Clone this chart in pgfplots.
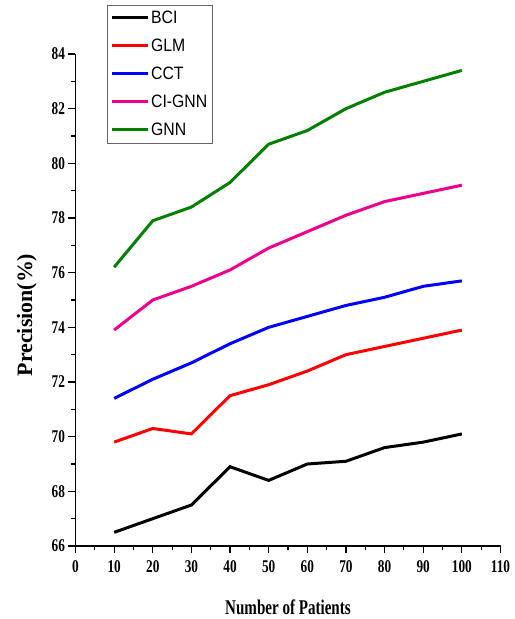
\documentclass[border=0pt]{standalone}
\usepackage{pgfplots}
\pgfplotsset{compat=1.18}
\usepackage{graphicx}
\usepackage{fontspec}
\setmainfont{Liberation Serif}
\newfontfamily\legfont{Liberation Sans}
\definecolor{gnngreen}{RGB}{0,128,0}
\newcommand{\sqz}[1]{\scalebox{0.74}[1]{#1}}
\newcommand{\lsq}[1]{\scalebox{0.88}[1]{#1}}
\begin{document}
\begin{tikzpicture}
\useasboundingbox (-75.5bp,-73bp) rectangle (439.5bp,546bp);
\begin{axis}[
  at={(0,0)}, anchor=origin,
  scale only axis,
  width=425bp, height=492bp,
  xmin=0, xmax=110, ymin=66, ymax=84,
  axis lines*=left,
  axis line style={line width=1.2bp},
  xtick={0,10,...,110},
  ytick={66,68,...,84},
  minor xtick={5,15,...,105},
  minor ytick={67,69,...,83},
  tick align=outside,
  major tick length=7bp,
  minor tick length=4bp,
  tick style={line width=1.1bp,black},
  ticklabel style={font=\fontsize{18}{20}\selectfont\bfseries},
  xticklabel style={yshift=-4bp},
  /pgf/number format/assume math mode=true,
  xticklabel={\sqz{\pgfmathprintnumber{\tick}}},
  yticklabel={\sqz{\pgfmathprintnumber{\tick}}},
  xlabel={\fontsize{21}{23}\selectfont\bfseries\scalebox{0.72}[1]{Number of Patients}},
  ylabel={\fontsize{22}{24}\selectfont\bfseries Precision(\%)},
  xlabel style={yshift=-20bp},
  ylabel style={yshift=8bp, xshift=-15bp},
  legend style={at={(rel axis cs:0.074,1.1)}, anchor=north west,
    draw=black!60,
    font=\legfont\fontsize{18}{20}\selectfont,
    row sep=10bp, inner xsep=3bp, inner ysep=4bp,
    cells={anchor=west}},
  legend image code/.code={\draw[#1,line width=3bp] (0bp,0bp) -- (36bp,0bp);},
  every axis plot/.append style={line width=3bp},
]
\addplot[black] coordinates {(10,66.5) (20,67.0) (30,67.5) (40,68.9) (50,68.4) (60,69.0) (70,69.1) (80,69.6) (90,69.8) (100,70.1)};
\addlegendentry{\lsq{BCI}}
\addplot[red] coordinates {(10,69.8) (20,70.3) (30,70.1) (40,71.5) (50,71.9) (60,72.4) (70,73.0) (80,73.3) (90,73.6) (100,73.9)};
\addlegendentry{\lsq{GLM}}
\addplot[blue] coordinates {(10,71.4) (20,72.1) (30,72.7) (40,73.4) (50,74.0) (60,74.4) (70,74.8) (80,75.1) (90,75.5) (100,75.7)};
\addlegendentry{\lsq{CCT}}
\addplot[magenta] coordinates {(10,73.9) (20,75.0) (30,75.5) (40,76.1) (50,76.9) (60,77.5) (70,78.1) (80,78.6) (90,78.9) (100,79.2)};
\addlegendentry{\lsq{CI-GNN}}
\addplot[gnngreen] coordinates {(10,76.2) (20,77.9) (30,78.4) (40,79.3) (50,80.7) (60,81.2) (70,82.0) (80,82.6) (90,83.0) (100,83.4)};
\addlegendentry{\lsq{GNN}}
\end{axis}
\end{tikzpicture}
\end{document}
